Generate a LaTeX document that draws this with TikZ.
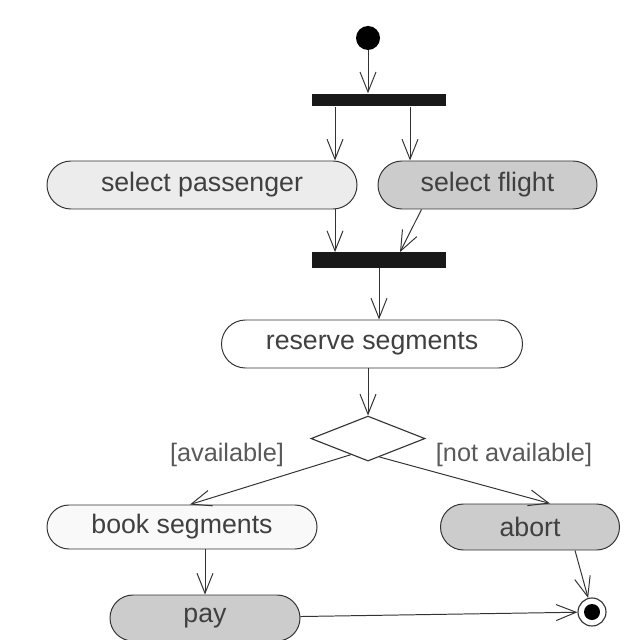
\documentclass[tikz,border=0pt]{standalone}
\usepackage{fontspec}
\setmainfont{Liberation Sans}
\usetikzlibrary{arrows.meta,positioning,calc,shapes.misc,shapes.geometric}

\begin{document}
\begin{tikzpicture}[
  x=0.25mm,y=-0.25mm,
  actbox/.style={draw=black!80,line width=0.7pt,rounded rectangle,minimum height=12mm,inner sep=0pt,font=\fontsize{19}{22}\selectfont,text=black!75},
  forkbar/.style={fill=black!90,minimum width=33.5mm,minimum height=3.2mm,inner sep=0pt},
  startdot/.style={circle,fill=black,minimum size=6mm,inner sep=0pt},
  enddot/.style={circle,draw=black!80,line width=0.8pt,minimum size=7mm,inner sep=0pt,path picture={\fill[black] (path picture bounding box.center) circle (2mm);}},
  choice/.style={diamond,draw=black!80,line width=0.8pt,minimum width=28.5mm,minimum height=11.25mm,inner sep=0pt},
  guard/.style={font=\fontsize{18}{20}\selectfont,text=black!65},
  arr/.style={-{Straight Barb[length=5mm,width=4mm]},draw=black!80,line width=0.7pt}
]
\useasboundingbox (0,0) rectangle (640,640);
\node[startdot] (start) at (368,38) {};
\node[forkbar] (fork) at (379,100) {};
\node[actbox,minimum width=77.5mm,fill=gray!15] (selpass) at (202,185) {select passenger};
\node[actbox,minimum width=54.75mm,fill=gray!40,right=5mm of selpass] (selflight) {select flight};
\node[forkbar,minimum height=3.8mm] (join) at (379,260) {};
\node[actbox,minimum width=75.25mm,fill=white] (reserve) at (372,344) {reserve segments};
\node[choice,below=11.75mm of reserve,xshift=-1mm] (check) {};
\node[guard] (lblavail) at (227,455) {[available]};
\node[guard] (lblnot) at (514,455) {[not available]};
\node[actbox,minimum width=67.5mm,minimum height=11mm,fill=gray!5] (book) at (182,527) {book segments};
\node[actbox,minimum width=44.75mm,minimum height=11.5mm,fill=gray!40] (abort) at (530,527) {abort};
\node[actbox,minimum width=47.5mm,minimum height=11.5mm,fill=gray!40] (pay) at (205,618) {pay};
\node[enddot] (final) at (592,612) {};
\draw[arr] (start) -- (start |- fork.north);
\draw[arr] ([xshift=-11mm]fork.south) -- ([xshift=-11mm]fork.south |- selpass.north);
\draw[arr] ([xshift=7.75mm]fork.south) -- ([xshift=7.75mm]fork.south |- selflight.north);
\draw[arr] ([xshift=-11mm]join.north |- selpass.south) -- ([xshift=-11mm]join.north);
\draw[arr] ([xshift=-16.5mm]selflight.south) -- ([xshift=5.25mm]join.north);
\draw[arr] (join) -- (join |- reserve.north);
\draw[arr] (reserve.south -| check) -- (check);
\draw[arr] ($(check.south)!0.3!(check.west)$) -- ([xshift=2mm]book.north);
\draw[arr] ($(check.south)!0.2!(check.east)$) -- ([xshift=5mm]abort.north);
\draw[arr] (book.south -| pay.north) -- (pay.north);
\draw[arr] (pay) -- (final);
\draw[arr] ([xshift=11.25mm]abort.south) -- (final);
\end{tikzpicture}
\end{document}
